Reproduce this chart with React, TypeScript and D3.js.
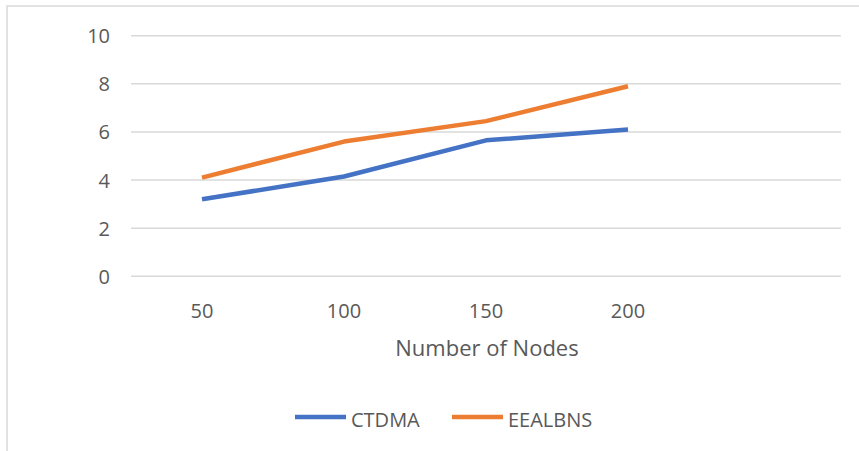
import React from "react";
import * as d3 from "d3";

const categories = ["50", "100", "150", "200", ""];
const ctdma = [3.2, 4.15, 5.65, 6.1];
const eealbns = [4.1, 5.6, 6.45, 7.9];
const yTicks = [0, 2, 4, 6, 8, 10];
const seriesNames = ["CTDMA", "EEALBNS"];
const seriesColors = ["#4472C4", "#ED7D31"];
const xTitle = "Number of Nodes";

const W = 859;
const H = 451;
const FONT = "'Open Sans', sans-serif";

export default function App() {
  const x = d3.scaleBand<string>().domain(categories).range([131, 841]);
  const y = d3.scaleLinear().domain([0, 10]).range([276.3, 35.7]);
  const cx = (c: string) => (x(c) ?? 0) + x.bandwidth() / 2;
  const line = d3
    .line<number>()
    .x((_, i) => cx(categories[i]))
    .y((d) => y(d));
  const series = [ctdma, eealbns];

  return (
    <svg
      width={W}
      height={H}
      style={{ position: "absolute", left: 0, top: 0, background: "#fff" }}
      fontFamily={FONT}
    >
      <rect x={7} y={6} width={W} height={H} fill="#fff" stroke="#d9d9d9" strokeWidth={1.5} />
      {yTicks.map((t) => (
        <g key={t}>
          <line x1={131} x2={841} y1={y(t)} y2={y(t)} stroke="#d9d9d9" strokeWidth={1.5} />
          <text
            x={110}
            y={y(t)}
            textAnchor="end"
            dominantBaseline="central"
            fontSize={20}
            fill="#595959"
          >
            {t}
          </text>
        </g>
      ))}
      {categories
        .filter((c) => c !== "")
        .map((c) => (
          <text
            key={c}
            x={cx(c)}
            y={310}
            textAnchor="middle"
            dominantBaseline="central"
            fontSize={20}
            fill="#595959"
          >
            {c}
          </text>
        ))}
      <text
        x={487}
        y={347}
        textAnchor="middle"
        dominantBaseline="central"
        fontSize={22}
        fill="#595959"
      >
        {xTitle}
      </text>
      {series.map((s, i) => (
        <path
          key={i}
          d={line(s) ?? ""}
          fill="none"
          stroke={seriesColors[i]}
          strokeWidth={4.5}
          strokeLinejoin="round"
        />
      ))}
      {seriesNames.map((n, i) => {
        const lx = [295, 452][i];
        return (
          <g key={n}>
            <line x1={lx} x2={lx + 51} y1={417} y2={417} stroke={seriesColors[i]} strokeWidth={4.5} />
            <text
              x={lx + 56}
              y={419}
              dominantBaseline="central"
              fontSize={20}
              fill="#595959"
            >
              {n}
            </text>
          </g>
        );
      })}
    </svg>
  );
}
